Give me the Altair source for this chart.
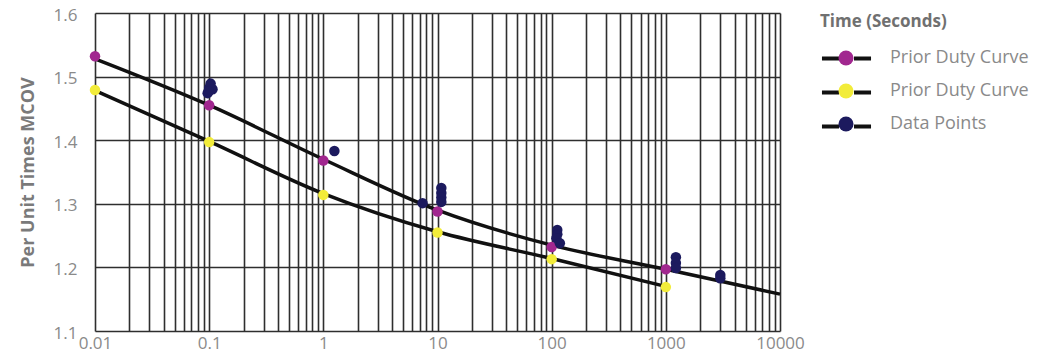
import altair as alt
import pandas as pd

# ---- data ----
series_names = ["Prior Duty Curve", "Prior Duty Curve ", "Data Points"]
series_colors = ["#A1278F", "#F2EC3A", "#1C1A5E"]

magenta_t = [0.01, 0.1, 1, 10, 100, 1000]
magenta_v = [1.532, 1.455, 1.368, 1.288, 1.232, 1.197]

yellow_t = [0.01, 0.1, 1, 10, 100, 1000]
yellow_v = [1.479, 1.397, 1.314, 1.255, 1.213, 1.169]

data_t = [0.097, 0.1, 0.103, 0.107, 0.099, 1.25, 7.4, 10.8, 10.8, 10.8, 10.8,
          112, 112, 110, 118, 1225, 1225, 1225, 3000, 3000]
data_v = [1.474, 1.482, 1.489, 1.480, 1.477, 1.383, 1.301, 1.325, 1.317, 1.310, 1.303,
          1.259, 1.252, 1.246, 1.238, 1.216, 1.207, 1.199, 1.188, 1.183]

upper_t = [0.01, 0.1, 1, 10, 100, 1000, 10000]
upper_v = [1.528, 1.455, 1.370, 1.290, 1.235, 1.197, 1.158]
lower_t = [0.01, 0.1, 1, 10, 100, 1000]
lower_v = [1.478, 1.398, 1.316, 1.256, 1.214, 1.170]

x_major = [0.01, 0.1, 1, 10, 100, 1000, 10000]
y_ticks = [1.1, 1.2, 1.3, 1.4, 1.5, 1.6]

# grid values at every 1..9 multiple of each decade
x_grid = []
for d in x_major[:-1]:
    for m in range(1, 10):
        x_grid.append(round(d * m, 6))
x_grid.append(10000)

pts = pd.DataFrame(
    {"t": magenta_t + yellow_t + data_t,
     "v": magenta_v + yellow_v + data_v,
     "series": [series_names[0]] * len(magenta_t)
     + [series_names[1]] * len(yellow_t)
     + [series_names[2]] * len(data_t),
     "ord": [0] * len(magenta_t) + [1] * len(yellow_t) + [2] * len(data_t)}
)
lines = pd.DataFrame(
    {"t": upper_t + lower_t,
     "v": upper_v + lower_v,
     "curve": ["c1"] * len(upper_t) + ["c2"] * len(lower_t)}
)

FONT = "Open Sans"
GREY = "#8a8a8a"

xscale = alt.Scale(type="log", domain=[0.01, 10000], nice=False)
yscale = alt.Scale(domain=[1.1, 1.6], zero=False, nice=False)

xaxis = alt.Axis(
    values=x_grid, title=None, grid=True, ticks=False, domain=False,
    labelExpr="abs(log(datum.value)/LN10 - round(log(datum.value)/LN10)) < 1e-6 ? format(datum.value, '~g') : ''",
    labelOverlap=False, labelFlush=False, labelFontSize=17, labelColor=GREY,
    labelFont=FONT, labelPadding=4, labelBaseline="top",
)
yaxis = alt.Axis(
    values=y_ticks, format=".1f", title="Per Unit Times MCOV", grid=True,
    ticks=False, domain=False, labelFontSize=17, labelColor=GREY, labelFont=FONT,
    labelPadding=18, labelOffset=2, labelFlush=False,
    titleFontSize=18, titleFont=FONT, titleFontWeight="bold",
    titleColor="#7a7a7a", titlePadding=16,
)

LX = 725
LY = 1

line_layer = alt.Chart(lines).mark_line(strokeWidth=3.5, interpolate="monotone").encode(
    x=alt.X("t:Q", scale=xscale, axis=xaxis),
    y=alt.Y("v:Q", scale=yscale, axis=yaxis),
    stroke=alt.Stroke(
        "curve:N",
        scale=alt.Scale(domain=["c1", "c2", "c3"], range=["#111111"] * 3),
        legend=alt.Legend(
            orient="none", legendX=LX, legendY=LY, padding=0,
            title="Time (Seconds)", titleFontSize=17, titleFont=FONT,
            titleFontWeight="bold", titleColor="#707070", titlePadding=18,
            symbolType="M-3.27,0L-1,0M1,0L3.27,0", symbolSize=225,
            symbolStrokeWidth=4, symbolFillColor="transparent",
            symbolOffset=17, labelOffset=35,
            labelExpr="'Prior Duty Curve'", labelColor="transparent",
            labelFontSize=18, labelFont=FONT, rowPadding=15,
        ),
    ),
    detail="curve:N",
)

point_layer = alt.Chart(pts).mark_circle(size=110, opacity=1).encode(
    x=alt.X("t:Q", scale=xscale, axis=xaxis),
    y=alt.Y("v:Q", scale=yscale, axis=yaxis),
    color=alt.Color(
        "series:N",
        scale=alt.Scale(domain=series_names, range=series_colors),
        legend=alt.Legend(
            orient="none", legendX=LX, legendY=LY, padding=0,
            title="Time (Seconds)", titleFontSize=17, titleFont=FONT,
            titleFontWeight="bold", titleColor="transparent", titlePadding=18,
            symbolType="circle", symbolSize=225, symbolStrokeWidth=0,
            symbolOpacity=1, symbolOffset=17, labelOffset=35,
            labelFontSize=18, labelFont=FONT, labelColor=GREY, rowPadding=15,
        ),
    ),
    order="ord:Q",
)

chart = alt.layer(line_layer, point_layer).resolve_legend(
    color="independent", stroke="independent"
).properties(
    width=685, height=318,
    autosize=alt.AutoSizeParams(type="none"),
    padding={"left": 87, "top": 5, "right": 254, "bottom": 23},
).configure_axis(
    gridColor="#2e2e2e", gridWidth=1.6, gridOpacity=1,
).configure_view(stroke=None)

chart.save("out.html", embed_options={"renderer": "svg", "actions": False})
